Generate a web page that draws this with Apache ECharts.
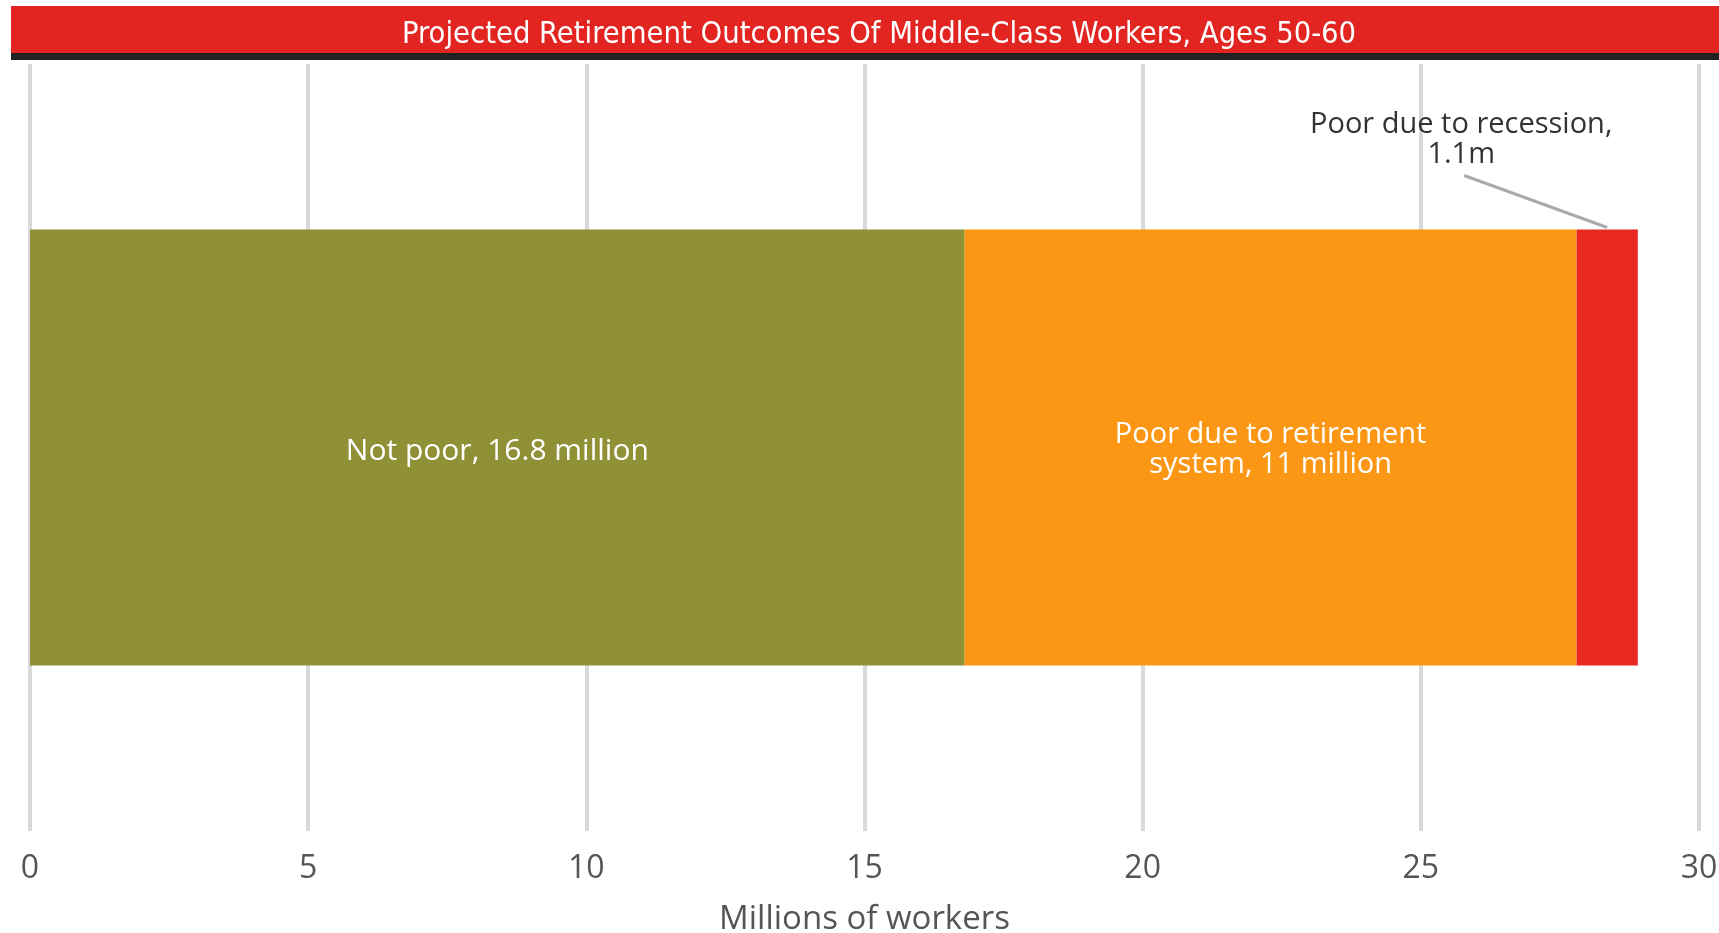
<!DOCTYPE html>
<html>
<head>
<meta charset="utf-8">
<script src="https://cdn.jsdelivr.net/npm/echarts@6/dist/echarts.min.js"></script>
<style>
html,body{margin:0;padding:0;background:#fff;}
#chart{width:1719px;height:933px;}
</style>
</head>
<body>
<div id="chart"></div>
<script>
const titleText = 'Projected Retirement Outcomes Of Middle-Class Workers, Ages 50-60';
const categories = ['Middle-class workers, ages 50-60'];
const seriesNames = ['Not poor', 'Poor due to retirement system', 'Poor due to recession'];
const notPoor = [16.8];
const poorRetirement = [11];
const poorRecession = [1.1];
const seriesLabels = ['Not poor, 16.8 million', 'Poor due to retirement\nsystem, 11 million', 'Poor due to recession,\n1.1m'];
const xTicks = [0, 5, 10, 15, 20, 25, 30];
const axisName = 'Millions of workers';

const FONT = '"Open Sans", sans-serif';
const BAR_W = 436;
const chart = echarts.init(document.getElementById('chart'));
const bgGraphics = [
  {type: 'rect', z: -1, shape: {x: 11, y: 6, width: 1708, height: 47}, style: {fill: '#e32522'}},
  {type: 'rect', z: -1, shape: {x: 11, y: 53, width: 1708, height: 7}, style: {fill: '#222222'}}
];
const option = {
  animation: false,
  backgroundColor: '#fff',
  title: {
    text: titleText,
    left: 874, top: 15, textAlign: 'center',
    textStyle: {color: '#fff', fontFamily: '"DejaVu Sans Condensed", "Roboto", sans-serif', fontWeight: 'normal', fontSize: 30.6}
  },
  graphic: bgGraphics,
  grid: {left: 30, right: 20, top: 64, bottom: 102, containLabel: false, outerBoundsMode: 'none'},
  xAxis: {
    type: 'value', min: xTicks[0], max: xTicks[xTicks.length - 1], interval: 5,
    axisLine: {show: false}, axisTick: {show: false},
    splitLine: {show: true, lineStyle: {color: '#d9d9d9', width: 4}},
    axisLabel: {color: '#555', fontFamily: FONT, fontSize: 32, margin: 22},
    name: axisName, nameLocation: 'middle', nameGap: 72,
    nameTextStyle: {color: '#555', fontFamily: FONT, fontSize: 33}
  },
  yAxis: {
    type: 'category', data: categories,
    axisLine: {show: false}, axisTick: {show: false}, axisLabel: {show: false}, splitLine: {show: false}
  },
  series: [
    {name: seriesNames[0], type: 'bar', stack: 'total', data: notPoor, barWidth: BAR_W,
     itemStyle: {color: '#909137'},
     label: {show: true, position: 'inside', offset: [0, 4], formatter: seriesLabels[0], color: '#fff', fontFamily: FONT, fontSize: 30}},
    {name: seriesNames[1], type: 'bar', stack: 'total', data: poorRetirement, barWidth: BAR_W,
     itemStyle: {color: '#fb9715'},
     label: {show: true, position: 'inside', offset: [0, 2], formatter: seriesLabels[1], color: '#fff', fontFamily: FONT, fontSize: 29, lineHeight: 30, align: 'center'}},
    {name: seriesNames[2], type: 'bar', stack: 'total', data: poorRecession, barWidth: BAR_W,
     itemStyle: {color: '#e8291f'},
     label: {show: true, position: 'top', distance: 5, offset: [-146, -55], formatter: seriesLabels[2], color: '#333', fontFamily: FONT, fontSize: 29, lineHeight: 30, align: 'center'}}
  ]
};
chart.setOption(option);

// leader line from annotation to the top of the recession bar, via the library's scales
const total = notPoor[0] + poorRetirement[0];
const topPt = chart.convertToPixel({gridIndex: 0}, [total + poorRecession[0] / 2, categories[0]]);
const barTop = topPt[1] - BAR_W / 2;
chart.setOption({
  graphic: bgGraphics.concat([
    {type: 'line', z: 10, shape: {x1: topPt[0] - 143, y1: barTop - 54, x2: topPt[0], y2: barTop - 2},
     style: {stroke: '#aaaaaa', lineWidth: 3}}
  ])
});
</script>
</body>
</html>
